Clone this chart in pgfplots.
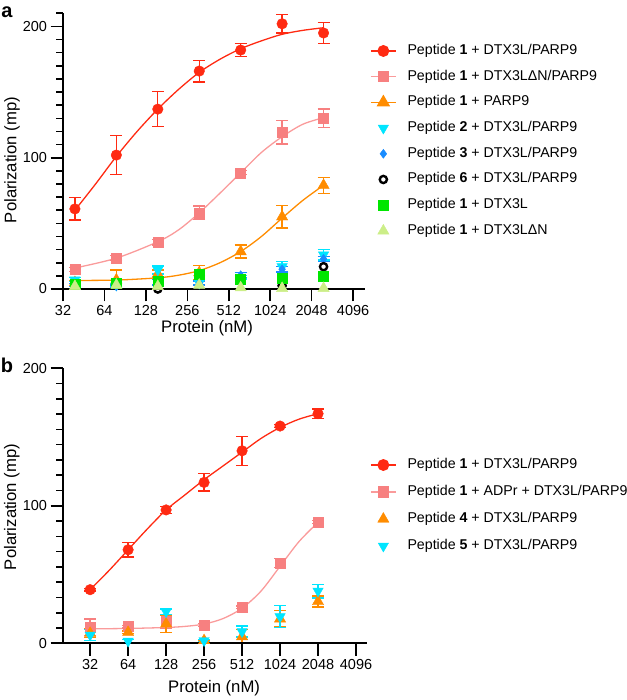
\documentclass[border=0pt]{standalone}
\usepackage{pgfplots}
\pgfplotsset{compat=1.18}
\usepackage{fontspec}
\setmainfont{Liberation Sans}
\definecolor{cred}{RGB}{255,42,18}
\definecolor{cpink}{RGB}{247,128,128}
\definecolor{cpinkl}{RGB}{250,155,155}
\definecolor{corange}{RGB}{255,140,0}
\definecolor{ccyan}{RGB}{0,229,255}
\definecolor{cblue}{RGB}{25,140,255}
\definecolor{cgreen}{RGB}{0,230,0}
\definecolor{clgreen}{RGB}{204,238,136}
\pgfplotsset{
 eb/.style={error bars/.cd, y dir=both, y explicit, error bar style={line width=1.3bp}, error mark options={rotate=90, mark size=6bp, line width=1.3bp}},
}
\begin{document}
\begin{tikzpicture}
\useasboundingbox (0,0) rectangle (627bp,700bp);
\node[font=\bfseries\fontsize{20bp}{20bp}\selectfont] at (7bp,688bp) {a};
\node[font=\bfseries\fontsize{20bp}{20bp}\selectfont] at (7bp,335bp) {b};
% ---------------- panel a
\begin{semilogxaxis}[log basis x=2,
  scale only axis, clip=false, axis on top,
  axis lines*=left,
  axis line style={-, line width=1.8bp, black},
  xtick={32,64,128,256,512,1024,2048,4096},
  xticklabels={32,64,128,256,512,1024,2048,4096},
  xminorticks=false,
  ytick={0,100,200},
  tick align=outside,
  tickwidth=12.5bp, subtickwidth=7bp,
  every tick/.style={black, line width=1.6bp},
  ticklabel style={font=\fontsize{14.5bp}{16bp}\selectfont},
  label style={font=\fontsize{16.7bp}{19bp}\selectfont},
  legend cell align=left,
  legend style={draw=none, fill=none, inner sep=0pt, font=\fontsize{14.2bp}{16bp}\selectfont,
   nodes={inner sep=0pt, text height=10bp, text depth=3bp}, column sep=11bp, anchor=north west,
   at={(1.0166,0.8876)}, row sep=12.7bp},
  legend image code/.code={\draw[mark repeat=2,mark phase=2] plot coordinates {(0bp,0bp) (12.5bp,0bp) (25bp,0bp)};},
  at={(63bp,411bp)}, anchor=south west,
  width=302bp, height=275.7bp,
  xmin=32, xmax=5000, ymin=0, ymax=210,
  minor ytick={10,20,30,40,50,60,70,80,90,110,120,130,140,150,160,170,180,190,210},
  xlabel={Protein (nM)}, ylabel={Polarization (mp)},
  xlabel style={at={(0.477,-0.142)}, anchor=center},
  ylabel style={at={(-0.169,0.468)}, anchor=center},
  /pgf/number format/assume math mode=true,
]
\addlegendimage{cred, line width=1.3bp, mark=*, mark size=5.3bp}
\addlegendentry{Peptide \textbf{1} + DTX3L/PARP9}
\addlegendimage{cpinkl, line width=1.3bp, mark=square*, mark size=5bp, mark options={fill=cpink, draw=cpink}}
\addlegendentry{Peptide \textbf{1} + DTX3LΔN/PARP9}
\addlegendimage{corange, line width=1.3bp, mark=triangle*, mark size=6.5bp}
\addlegendentry{Peptide \textbf{1} + PARP9}
\addlegendimage{only marks, ccyan, mark=triangle*, mark size=6bp, mark options={rotate=180}}
\addlegendentry{Peptide \textbf{2} + DTX3L/PARP9}
\addlegendimage{only marks, cblue, mark=diamond*, mark size=4.5bp}
\addlegendentry{Peptide \textbf{3} + DTX3L/PARP9}
\addlegendimage{only marks, black, mark=o, mark size=3.6bp, mark options={line width=2.4bp}}
\addlegendentry{Peptide \textbf{6} + DTX3L/PARP9}
\addlegendimage{only marks, cgreen, mark=square*, mark size=5bp}
\addlegendentry{Peptide \textbf{1} + DTX3L}
\addlegendimage{only marks, clgreen, mark=triangle*, mark size=6.5bp}
\addlegendentry{Peptide \textbf{1} + DTX3LΔN}
% curves
\addplot[forget plot, cred, line width=1.3bp, no marks, smooth] coordinates {
(39.0625,60) (55.2,80) (78.125,101) (110.5,120) (156.25,137) (221,152) (312.5,165) (442,175) (625,183) (884,189) (1250,194) (1768,197) (2500,199)};
\addplot[forget plot, only marks, cred, mark=*, mark size=5.3bp, eb] table[x=x,y=y,y error=e] {
x y e
39.0625 61 8.5
78.125 102 15
156.25 137 13.4
312.5 166 8.3
625 182 4.8
1250 202 6.9
2500 195 8
};
\addplot[forget plot, cpinkl, line width=1.3bp, no marks, smooth] coordinates {
(39.0625,16) (78.125,23.5) (156.25,36) (221,45) (312.5,58) (442,73) (625,88.5) (884,104) (1250,116) (1768,125.5) (2500,130.5)};
\addplot[forget plot, only marks, cpink, mark=square*, mark size=5bp, eb] table[x=x,y=y,y error=e] {
x y e
39.0625 15 1.5
78.125 23.5 2
156.25 35.5 2
312.5 58 5.3
625 88.5 1.5
1250 119.5 9
2500 130 7
};
\addplot[forget plot, corange, line width=1.3bp, no marks, smooth] coordinates {
(39.0625,6.5) (78.125,6.8) (156.25,8.5) (221,10.5) (312.5,14) (442,20) (625,28.5) (884,40) (1250,54) (1768,67.5) (2500,79)};
\addplot[forget plot, only marks, corange, mark=triangle*, mark size=6.5bp, eb] table[x=x,y=y,y error=e] {
x y e
39.0625 5 1
78.125 7 7.5
156.25 11.5 3
312.5 12.5 5.3
625 28.5 5
1250 55 8.6
2500 79 6
};
\addplot[forget plot, only marks, ccyan, mark=triangle*, mark size=6bp, mark options={rotate=180}, eb] table[x=x,y=y,y error=e] {
x y e
39.0625 7 1.5
78.125 3 1
156.25 14.5 3
312.5 4.5 1
625 9 1.5
1250 17 4
2500 26 4
};
\addplot[forget plot, only marks, cblue, mark=diamond*, mark size=4.5bp, eb] table[x=x,y=y,y error=e] {
x y e
39.0625 3 1
78.125 2 1
156.25 5 2
312.5 4.5 1.5
625 10.5 2
1250 15 2
2500 23 2
};
\addplot[forget plot, only marks, black, mark=o, mark size=3.6bp, mark options={line width=2.4bp}] coordinates {
(156.25,0) (1250,2.5) (2500,17)};
\addplot[forget plot, only marks, cgreen, mark=square*, mark size=5bp] coordinates {
(39.0625,4) (78.125,4.5) (156.25,6) (312.5,11) (625,7.5) (1250,8) (2500,9.5)};
\addplot[forget plot, only marks, clgreen, mark=triangle*, mark size=6.5bp] coordinates {
(39.0625,2) (78.125,3) (156.25,2) (312.5,3) (625,1) (1250,0.5) (2500,0.5)};
\end{semilogxaxis}
% ---------------- panel b
\begin{semilogxaxis}[log basis x=2,
  scale only axis, clip=false, axis on top,
  axis lines*=left,
  axis line style={-, line width=1.8bp, black},
  xtick={32,64,128,256,512,1024,2048,4096},
  xticklabels={32,64,128,256,512,1024,2048,4096},
  xminorticks=false,
  ytick={0,100,200},
  tick align=outside,
  tickwidth=12.5bp, subtickwidth=7bp,
  every tick/.style={black, line width=1.6bp},
  ticklabel style={font=\fontsize{14.5bp}{16bp}\selectfont},
  label style={font=\fontsize{16.7bp}{19bp}\selectfont},
  legend cell align=left,
  legend style={draw=none, fill=none, inner sep=0pt, font=\fontsize{14.2bp}{16bp}\selectfont,
   nodes={inner sep=0pt, text height=10bp, text depth=3bp}, column sep=11bp, anchor=north west,
   at={(1.0099,0.6727)}, row sep=14bp},
  legend image code/.code={\draw[mark repeat=2,mark phase=2] plot coordinates {(0bp,0bp) (12.5bp,0bp) (25bp,0bp)};},
  at={(63bp,56.7bp)}, anchor=south west,
  width=304bp, height=275bp,
  xmin=19.5, xmax=5005, ymin=0, ymax=200,
  minor ytick={11.11,22.22,33.33,44.44,55.56,66.67,77.78,88.89,111.11,122.22,133.33,144.44,155.56,166.67,177.78,188.89},
  xlabel={Protein (nM)}, ylabel={Polarization (mp)},
  xlabel style={at={(0.497,-0.165)}, anchor=center},
  ylabel style={at={(-0.168,0.496)}, anchor=center},
  /pgf/number format/assume math mode=true,
]
\addlegendimage{cred, line width=1.3bp, mark=*, mark size=5.3bp}
\addlegendentry{Peptide \textbf{1} + DTX3L/PARP9}
\addlegendimage{cpinkl, line width=1.3bp, mark=square*, mark size=5bp, mark options={fill=cpink, draw=cpink}}
\addlegendentry{Peptide \textbf{1} + ADPr + DTX3L/PARP9}
\addlegendimage{only marks, corange, mark=triangle*, mark size=6.5bp}
\addlegendentry{Peptide \textbf{4} + DTX3L/PARP9}
\addlegendimage{only marks, ccyan, mark=triangle*, mark size=6bp, mark options={rotate=180}}
\addlegendentry{Peptide \textbf{5} + DTX3L/PARP9}
\addplot[forget plot, cred, line width=1.3bp, no marks, smooth] coordinates {
(32,39) (45.25,53) (64,68) (90.5,83) (128,97) (181,108) (256,119) (362,129) (512,139) (724,149) (1024,157) (1448,163) (2048,167)};
\addplot[forget plot, only marks, cred, mark=*, mark size=5.3bp, eb] table[x=x,y=y,y error=e] {
x y e
32 39 1
64 68 5.2
128 97 2.4
256 117 6.3
512 140 10.6
1024 158 1
2048 167 3.3
};
\addplot[forget plot, cpinkl, line width=1.3bp, no marks, smooth] coordinates {
(32,10.5) (64,10.8) (128,11.5) (181,12.3) (256,14) (362,18) (512,25.5) (724,38) (1024,56) (1448,74) (2048,88)};
\addplot[forget plot, only marks, cpink, mark=square*, mark size=5bp, eb] table[x=x,y=y,y error=e] {
x y e
32 11.7 6
64 12.1 1
128 16 5
256 13.4 1
512 26.2 1
1024 58.3 3.3
2048 88.2 1
};
\addplot[forget plot, only marks, corange, mark=triangle*, mark size=6.5bp, eb] table[x=x,y=y,y error=e] {
x y e
32 7.3 3
64 8 1
128 14.1 6
256 2 0.5
512 4.9 5
1024 17.8 6
2048 30.4 4
};
\addplot[forget plot, only marks, ccyan, mark=triangle*, mark size=6bp, mark options={rotate=180}, eb] table[x=x,y=y,y error=e] {
x y e
32 6 4
64 1.6 1
128 23 2
256 2 1
512 8.5 4
1024 19.4 8
2048 38 5
};
\end{semilogxaxis}
\end{tikzpicture}
\end{document}
